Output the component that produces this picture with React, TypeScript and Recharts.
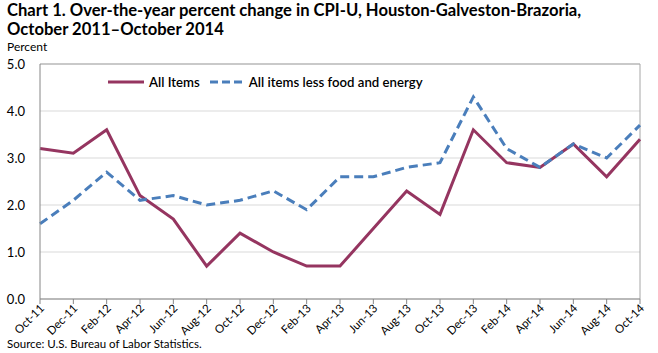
import { LineChart, Line, XAxis, YAxis, CartesianGrid, ReferenceLine } from 'recharts'

const months = ['Oct-11', 'Dec-11', 'Feb-12', 'Apr-12', 'Jun-12', 'Aug-12', 'Oct-12', 'Dec-12', 'Feb-13', 'Apr-13', 'Jun-13', 'Aug-13', 'Oct-13', 'Dec-13', 'Feb-14', 'Apr-14', 'Jun-14', 'Aug-14', 'Oct-14']
const allItems = [3.2, 3.1, 3.6, 2.2, 1.7, 0.7, 1.4, 1.0, 0.7, 0.7, 1.5, 2.3, 1.8, 3.6, 2.9, 2.8, 3.3, 2.6, 3.4]
const core = [1.6, 2.1, 2.7, 2.1, 2.2, 2.0, 2.1, 2.3, 1.9, 2.6, 2.6, 2.8, 2.9, 4.3, 3.2, 2.8, 3.3, 3.0, 3.7]
const yTicks = [0, 1, 2, 3, 4, 5]

const data = months.map((m, i) => ({ month: m, all: allItems[i], core: core[i] }))

const FONT = 'Lato, "Open Sans", sans-serif'
const PURPLE = '#953560'
const BLUE = '#4a7ebb'

// rotated month labels, anchored just below the tick mark
function MonthTick({ x, payload }: any) {
  return (
    <text x={0} y={0} textAnchor="end" fontSize={11.5} fill="#000" fontFamily={FONT}
      transform={`translate(${x + 5}, 309) rotate(-45)`}>
      {payload.value}
    </text>
  )
}

const titleStyle = { position: 'absolute' as const, left: 7, fontSize: 16.6, fontWeight: 700, lineHeight: '19px', color: '#000', whiteSpace: 'nowrap' as const }

export default function App() {
  return (
    <div style={{ position: 'absolute', left: 0, top: 0, width: 658, height: 353, background: '#fff', fontFamily: FONT }}>
      <div style={{ ...titleStyle, top: 1 }}>Chart 1. Over-the-year percent change in CPI-U, Houston-Galveston-Brazoria,</div>
      <div style={{ ...titleStyle, top: 20 }}>October 2011–October 2014</div>
      <div style={{ position: 'absolute', left: 7, top: 41, fontSize: 12, lineHeight: '12px', color: '#000' }}>Percent</div>
      <LineChart width={658} height={353} data={data} margin={{ top: 64, right: 18, bottom: 14, left: 8 }}>
        <CartesianGrid vertical={false} stroke="#d9d9d9" />
        <ReferenceLine y={5} stroke="#a6a6a6" />
        <ReferenceLine x="Oct-14" stroke="#a6a6a6" />
        <XAxis dataKey="month" interval={0} tick={<MonthTick />} tickLine={{ stroke: '#868686' }} tickSize={5}
          axisLine={{ stroke: '#868686' }} height={40} />
        <YAxis domain={[0, 5]} ticks={yTicks} width={32} tickLine={false} axisLine={{ stroke: '#868686' }}
          tickFormatter={(v: number) => v.toFixed(1)} tick={{ fontSize: 13, fill: '#000', fontFamily: FONT }} tickMargin={9} />
        <Line dataKey="all" stroke={PURPLE} strokeWidth={3} dot={false} isAnimationActive={false} />
        <Line dataKey="core" stroke={BLUE} strokeWidth={3} strokeDasharray="9 5" dot={false} isAnimationActive={false} />
      </LineChart>
      <div style={{ position: 'absolute', left: 108, top: 74, display: 'flex', alignItems: 'center', fontSize: 13.2, fontWeight: 600, color: '#000' }}>
        <svg width={36} height={6} style={{ marginRight: 5 }}>
          <line x1={0} y1={3} x2={36} y2={3} stroke={PURPLE} strokeWidth={3} />
        </svg>
        <span style={{ marginRight: 10 }}>All Items</span>
        <svg width={34} height={6} style={{ marginRight: 5 }}>
          <line x1={0} y1={3} x2={34} y2={3} stroke={BLUE} strokeWidth={3} strokeDasharray="8 4" />
        </svg>
        <span>All items less food and energy</span>
      </div>
      <div style={{ position: 'absolute', left: 7, top: 337, fontSize: 11.5, color: '#000' }}>Source:  U.S. Bureau of Labor Statistics.</div>
    </div>
  )
}
